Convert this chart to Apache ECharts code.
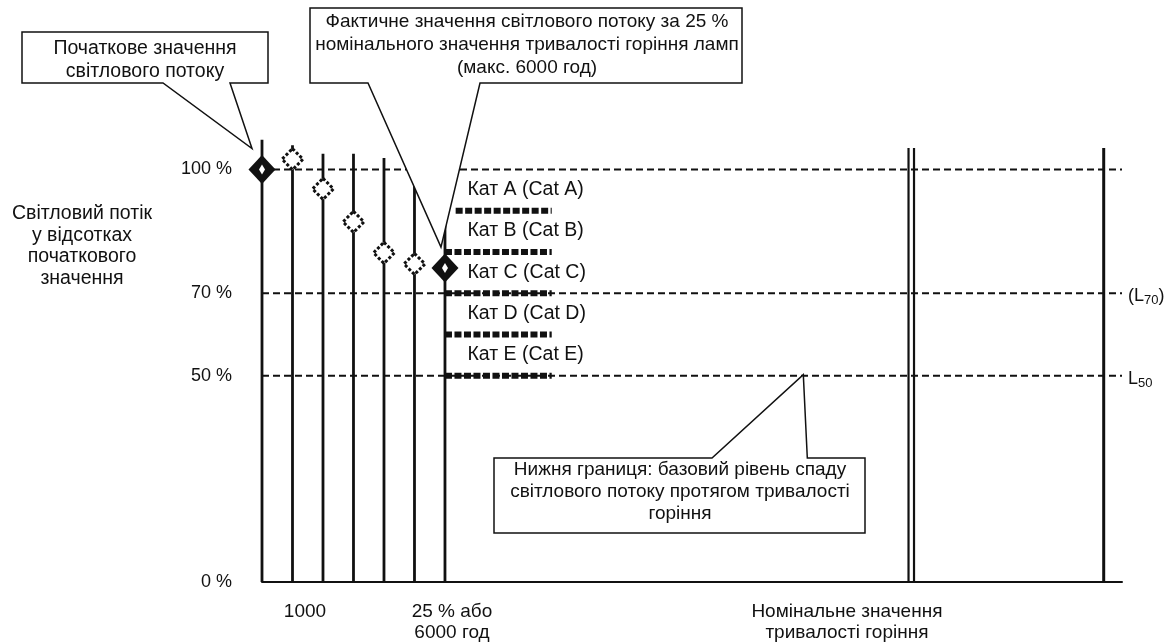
<!DOCTYPE html>
<html>
<head>
<meta charset="utf-8">
<script src="https://cdn.jsdelivr.net/npm/echarts@6/dist/echarts.min.js"></script>
<style>
  html, body { margin: 0; background: #fff; }
  #chart { width: 1173px; height: 644px; }
</style>
</head>
<body>
<div id="chart"></div>
<script>
// schematic time axis in hours (the double line marks a break before the rated life)
const hourMarks = [0, 1000, 2000, 3000, 4000, 5000, 6000]
const lineTops = [107.2, 105.9, 103.8, 103.8, 102.8, 103.8, 103.8]
const breakMarks = [21200, 21380]
const nominalMark = 27600
const frameTop = 105.2
const xMax = 28200

// luminous flux, % of initial value
const initialPoint = [0, 100]
const measuredHours = [1000, 2000, 3000, 4000, 5000]
const measuredFlux = [102.5, 95.3, 87.3, 79.8, 77.1]
const finalPoint = [6000, 76.1]
const floorPointer = [17750, 50]

const categories = ['Кат A (Cat A)', 'Кат B (Cat B)', 'Кат C (Cat C)', 'Кат D (Cat D)', 'Кат E (Cat E)']
const catThresholds = [90, 80, 70, 60, 50]
const catStart = [6350, 6000, 6000, 6000, 6000]
const catEnd = 9500

const refLevels = [100, 70, 50]
const refLabels = ['', '(L{s|70})', 'L{s|50}']

const yTicks = [0, 50, 70, 100]
const xLabelAt = [1410, 6230, 19180]
const xLabelText = ['1000', '25 % або\n6000 год', 'Номінальне значення\nтривалості горіння']

const INK = '#111'
const FONT = 'Liberation Sans, Arial, sans-serif'

const chart = echarts.init(document.getElementById('chart'))

function vline(x, top, width) {
  return {
    type: 'line', data: [[x, 0], [x, top]], symbol: 'none', silent: true, clip: false,
    lineStyle: { color: INK, width: width }, z: 2,
  }
}

const series = []
hourMarks.forEach((h, i) => series.push(vline(h, lineTops[i], 2.8)))
breakMarks.forEach((h) => series.push(vline(h, frameTop, 2.2)))
series.push(vline(nominalMark, frameTop, 3))

refLevels.forEach((lv, i) => {
  series.push({
    type: 'line', data: [[0, lv], [xMax, lv]], symbol: 'none', silent: true, clip: false,
    lineStyle: { color: INK, width: 2, type: [7, 4] }, z: 3,
    endLabel: {
      show: !!refLabels[i], formatter: refLabels[i], distance: 6, offset: [0, 3],
      color: INK, fontFamily: FONT, fontSize: 18,
      rich: { s: { fontSize: 13, verticalAlign: 'bottom', padding: [9, 0, 0, 0], fontFamily: FONT, color: INK } },
    },
  })
})

categories.forEach((c, i) => {
  series.push({
    type: 'line', data: [[catStart[i], catThresholds[i]], [catEnd, catThresholds[i]]],
    symbol: 'none', silent: true, clip: false,
    lineStyle: { color: INK, width: 6, type: [7, 2.5], cap: 'butt' }, z: 4,
  })
})

series.push({
  type: 'scatter', silent: true, clip: false, symbolSize: 1,
  itemStyle: { color: 'rgba(0,0,0,0)', opacity: 1 },
  data: categories.map((c, i) => ({ name: c, value: [6000, catThresholds[i]] })),
  label: {
    show: true, position: 'right', distance: 0, offset: [22, -21], formatter: '{b}',
    color: INK, fontFamily: FONT, fontSize: 19.5,
  },
  z: 5,
})

series.push({
  type: 'scatter', silent: true, clip: false, symbol: 'diamond', symbolSize: 21,
  data: measuredHours.map((h, i) => [h, measuredFlux[i]]),
  itemStyle: { color: '#fff', borderColor: INK, borderWidth: 3, borderType: [3, 2], opacity: 1 },
  z: 6,
})

series.push({
  type: 'scatter', silent: true, clip: false, symbol: 'diamond', symbolSize: [27, 29],
  data: [initialPoint, finalPoint], itemStyle: { color: INK, opacity: 1 }, z: 7,
})
series.push({
  type: 'scatter', silent: true, clip: false, symbol: 'diamond', symbolSize: [6, 10],
  data: [initialPoint, finalPoint], itemStyle: { color: '#fff', opacity: 1 }, z: 8,
})

chart.setOption({
  animation: false,
  backgroundColor: '#fff',
  grid: { left: 262, right: 51, top: 128.25, bottom: 62 },
  xAxis: {
    type: 'value', min: 0, max: xMax,
    axisLine: { show: true, lineStyle: { color: INK, width: 2 } },
    axisTick: { show: false },
    splitLine: { show: false },
    axisLabel: {
      customValues: xLabelAt,
      formatter: (v) => xLabelText[xLabelAt.indexOf(v)],
      margin: 19, color: INK, fontFamily: FONT, fontSize: 19, lineHeight: 21,
    },
  },
  yAxis: {
    type: 'value', min: 0, max: 110,
    axisLine: { show: false },
    axisTick: { show: false },
    splitLine: { show: false },
    axisLabel: {
      customValues: yTicks,
      formatter: (v) => v + ' %',
      margin: 30, color: INK, fontFamily: FONT, fontSize: 18,
    },
  },
  series: series,
})

// callouts, tails anchored to the data they point at
const p1 = chart.convertToPixel({ gridIndex: 0 }, initialPoint)
const p2 = chart.convertToPixel({ gridIndex: 0 }, finalPoint)
const p3 = chart.convertToPixel({ gridIndex: 0 }, floorPointer)
const tip1 = [p1[0] - 10, p1[1] - 21]
const tip2 = [p2[0] - 4, p2[1] - 21]
const tip3 = [p3[0], p3[1] - 1]

const boxStyle = { fill: '#fff', stroke: INK, lineWidth: 1.5 }
const label = (text, x, y, size, lh) => ({
  type: 'text', z: 101, silent: true,
  style: { text: text, x: x, y: y, align: 'center', verticalAlign: 'middle', fill: INK, font: size + 'px ' + FONT, lineHeight: lh },
})

chart.setOption({
  graphic: [
    {
      type: 'polygon', z: 100, silent: true, style: boxStyle,
      shape: { points: [[22, 32], [268, 32], [268, 83], [230, 83], tip1, [163, 83], [22, 83]] },
    },
    label('Початкове значення\nсвітлового потоку', 145, 60, 19.5, 23),
    {
      type: 'polygon', z: 100, silent: true, style: boxStyle,
      shape: { points: [[310, 8], [742, 8], [742, 83], [480, 83], tip2, [368, 83], [310, 83]] },
    },
    label('Фактичне значення світлового потоку за 25 %\nномінального значення тривалості горіння ламп\n(макс. 6000 год)', 527, 45, 19, 23),
    {
      type: 'polygon', z: 100, silent: true, style: boxStyle,
      shape: { points: [[494, 458], [712, 458], tip3, [tip3[0] + 4, 458], [865, 458], [865, 533], [494, 533]] },
    },
    label('Нижня границя: базовий рівень спаду\nсвітлового потоку протягом тривалості\nгоріння', 680, 492, 19, 22),
    label('Світловий потік\nу відсотках\nпочаткового\nзначення', 82, 246, 19.5, 21.7),
  ],
})
</script>
</body>
</html>
